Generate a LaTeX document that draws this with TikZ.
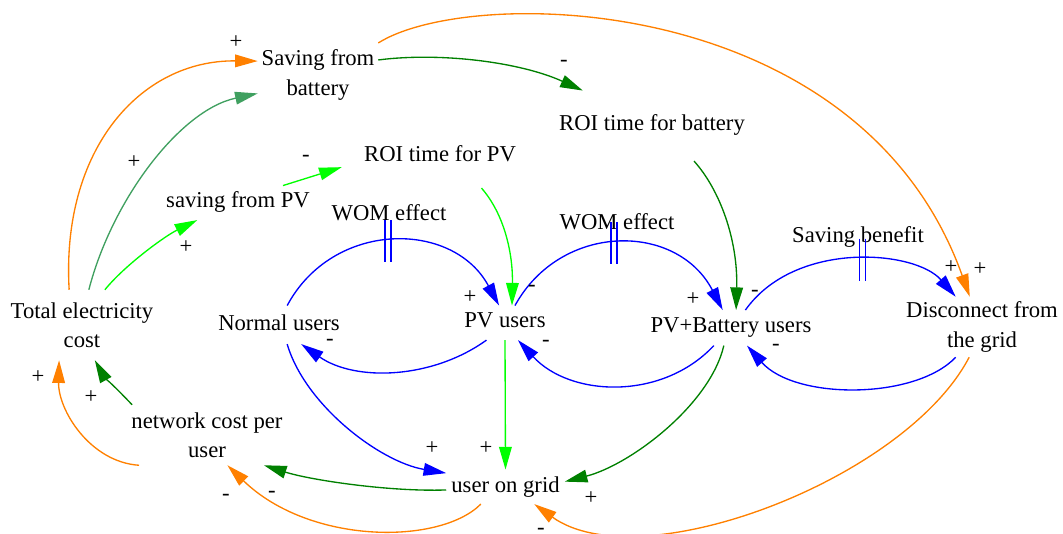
\documentclass[tikz,border=0pt]{standalone}
\usepackage{fontspec}
\setmainfont{Liberation Serif}
\usetikzlibrary{arrows.meta}

\definecolor{cldorange}{RGB}{255,128,0}
\definecolor{cldblue}{RGB}{0,0,255}
\definecolor{cldlime}{RGB}{0,255,0}
\definecolor{cldgreen}{RGB}{0,128,0}
\definecolor{cldsea}{RGB}{64,160,96}

\begin{document}
\begin{tikzpicture}[x=0.75pt,y=-0.75pt,
  every node/.style={font=\rmfamily\fontsize{17}{22}\selectfont, inner sep=0pt},
  var/.style={rectangle, text height=12pt, text depth=4.25pt, anchor=base},
  mvar/.style={rectangle, align=center},
  link/.style={line width=1pt, -{Triangle[length=17pt,width=9.5pt]}},
  pol/.style={anchor=base},
  delaybar/.style={cldblue, line width=1pt},
]
\useasboundingbox (0,0) rectangle (1063,534);

% variables
\node[mvar, minimum width=90pt, minimum height=49.5pt] (sb) at (318,75) {Saving from\\battery};
\node[var, minimum width=144pt, minimum height=52.5pt] (roib) at (652,131) {ROI time for battery};
\node[var, minimum width=147pt, minimum height=46.5pt] (roipv) at (440,162) {ROI time for PV};
\node[var, minimum width=114pt, minimum height=25.5pt] (spv) at (238,208) {saving from PV};
\node[var] (wom1) at (389,221) {WOM effect};
\node[var] (wom2) at (617,230) {WOM effect};
\node[var] (savben) at (858,243) {Saving benefit};
\node[var, minimum width=99pt, minimum height=28.5pt] (nu) at (279,330) {Normal users};
\node[var, minimum width=72pt, minimum height=25.5pt] (pvu) at (505,328) {PV users};
\node[var, minimum width=129pt, minimum height=26.25pt] (pvb) at (731,333) {PV+Battery users};
\node[var, minimum width=88.5pt, minimum height=25.5pt] (uog) at (505.5,492) {user on grid};
\node[mvar, minimum width=112.5pt, minimum height=52.5pt] (tec) at (82,325) {Total electricity\\cost};
\node[mvar, minimum width=120pt, minimum height=45pt] (dis) at (982,327) {Disconnect from\\the grid};
\node[mvar, minimum width=123pt, minimum height=45pt] (ncpu) at (207,435) {network cost per\\user};

% causal links
\draw[link, cldorange] (tec.110) .. controls (61,150) and (140,60) .. (sb.167);
\draw[link, cldsea] (tec.79) .. controls (112,200) and (180,110) .. (sb.197);
\draw[link, cldlime] (tec.57) .. controls (125,265) and (165,236) .. (spv.203);
\draw[link, cldlime] (spv.21) -- (roipv.186);
\draw[link, cldgreen] (sb.14) .. controls (440,52) and (520,62) .. (roib.153);
\draw[link, cldorange] (sb.28) .. controls (470,-15) and (860,-10) .. (dis.112);
\draw[link, cldlime] (roipv.323) .. controls (505,215) and (513,255) .. (pvu.68);
\draw[link, cldgreen] (roib.320) .. controls (720,190) and (738,240) .. (pvb.74);

\draw[link, cldblue] (nu.67) .. controls (333,220) and (453,220) .. (pvu.109) coordinate[pos=0.48] (dm1);
\draw[link, cldblue] (pvu.223) .. controls (432.5,379) and (355.5,382) .. (nu.319);
\draw[link, cldblue] (pvu.60) .. controls (561,222) and (677,222) .. (pvb.115) coordinate[pos=0.48] (dm2);
\draw[link, cldblue] (pvb.226) .. controls (662,401) and (570,397) .. (pvu.307);
\draw[link, cldblue] (pvb.51) .. controls (795,240) and (915,250) .. (dis.131) coordinate[pos=0.535] (dm3);
\draw[link, cldblue] (dis.229) .. controls (915,400) and (795,400) .. (pvb.312);

\draw[link, cldblue] (nu.293) .. controls (305,405) and (380,462) .. (uog.167);
\draw[link, cldlime] (pvu.south) -- (uog.north);
\draw[link, cldgreen] (pvb.248) .. controls (710,405) and (630,465) .. (uog.5);
\draw[link, cldorange] (dis.247) .. controls (905,480) and (640,580) .. (uog.329);
\draw[link, cldgreen] (uog.183) .. controls (390,492) and (310,480) .. (ncpu.332);
\draw[link, cldorange] (uog.215) .. controls (440,545) and (310,545) .. (ncpu.304);
\draw[link, cldgreen] (ncpu.158) .. controls (120,392) and (103,375) .. (tec.290);
\draw[link, cldorange] (ncpu.204) .. controls (90,462) and (58,410) .. (tec.237);

% delay marks
\foreach \d in {dm1,dm2,dm3} {
  \draw[delaybar] (\d) ++(-3,-21) -- ++(0,42);
  \draw[delaybar] (\d) ++(3,-21) -- ++(0,42);
}

% link polarities
\node[pol] (p1) at (236,49) {+};
\node[pol] (p2) at (134,169) {+};
\node[pol] (p3) at (186,254) {+};
\node[pol] (p4) at (306,162) {-};
\node[pol] (p5) at (564,67) {-};
\node[pol] (p6) at (980,276) {+};
\node[pol] (p7) at (532,292) {-};
\node[pol] (p8) at (755,297) {-};
\node[pol] (p9) at (470,304) {+};
\node[pol] (p10) at (330,345) {-};
\node[pol] (p11) at (693,306) {+};
\node[pol] (p12) at (546,347) {-};
\node[pol] (p13) at (951,274) {+};
\node[pol] (p14) at (776,350) {-};
\node[pol] (p15) at (432,454) {+};
\node[pol] (p16) at (486,454) {+};
\node[pol] (p17) at (591,504) {+};
\node[pol] (p18) at (541,534) {-};
\node[pol] (p19) at (272,497) {-};
\node[pol] (p20) at (226,500) {-};
\node[pol] (p21) at (91,403) {+};
\node[pol] (p22) at (38,383) {+};
\end{tikzpicture}
\end{document}
